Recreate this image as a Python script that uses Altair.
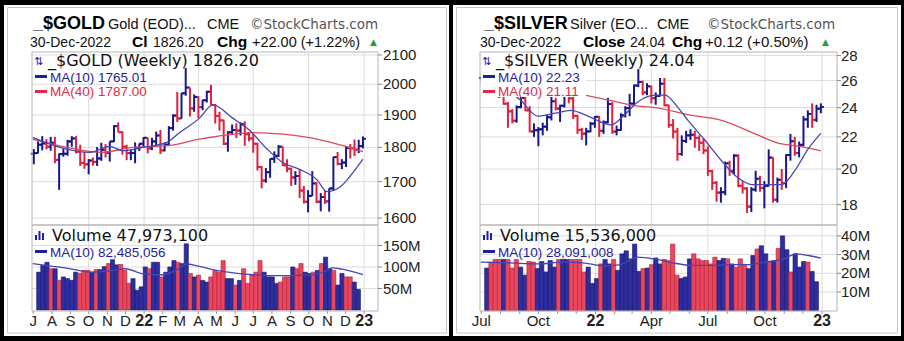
import altair as alt
import pandas as pd

weeks = [d.strftime("%Y-%m-%d") for d in pd.date_range("2021-07-02", "2022-12-30", freq="W-FRI")]

# ---------------- GOLD weekly OHLC ----------------
gold_open = [1781, 1783, 1808, 1812, 1802, 1814, 1763, 1780, 1781, 1818, 1827, 1787, 1754, 1750, 1761, 1757, 1767, 1793, 1783, 1818, 1865, 1846, 1802, 1783, 1783, 1798, 1811,
             1829, 1797, 1818, 1836, 1791, 1808, 1859, 1898, 1889, 1970, 1989, 1921, 1958, 1925, 1947, 1975, 1932, 1897, 1883, 1811, 1846, 1853, 1851, 1871, 1840, 1827,
             1811, 1742, 1703, 1727, 1766, 1775, 1802, 1747, 1737, 1712, 1716, 1675, 1644, 1660, 1695, 1644, 1657, 1645, 1681, 1771, 1751, 1755, 1798, 1797, 1793, 1804]
gold_high = [1795, 1818, 1834, 1825, 1832, 1832, 1782, 1795, 1823, 1834, 1834, 1808, 1787, 1765, 1770, 1801, 1814, 1810, 1818, 1868, 1877, 1849, 1808, 1793, 1815, 1812, 1831,
             1830, 1829, 1848, 1853, 1815, 1865, 1902, 1974, 1971, 2055, 1989, 1966, 1960, 1949, 1978, 1998, 1935, 1910, 1885, 1849, 1870, 1874, 1877, 1880, 1847,
             1841, 1814, 1745, 1739, 1767, 1788, 1807, 1802, 1765, 1740, 1730, 1735, 1688, 1676, 1730, 1699, 1668, 1675, 1681, 1772, 1786, 1765, 1804, 1810, 1824, 1823, 1833]
gold_low = [1750, 1782, 1791, 1794, 1790, 1753, 1677, 1772, 1775, 1802, 1782, 1745, 1737, 1721, 1746, 1745, 1760, 1770, 1758, 1816, 1846, 1778, 1762, 1762, 1753, 1789, 1801,
            1782, 1792, 1805, 1780, 1788, 1806, 1851, 1878, 1889, 1962, 1895, 1910, 1890, 1915, 1940, 1931, 1873, 1851, 1807, 1787, 1840, 1828, 1836, 1805, 1818,
            1784, 1732, 1681, 1697, 1711, 1754, 1771, 1745, 1727, 1688, 1691, 1654, 1639, 1615, 1660, 1640, 1618, 1638, 1617, 1676, 1747, 1736, 1742, 1767, 1774, 1783, 1797]
gold_close = [1783, 1808, 1812, 1802, 1814, 1763, 1780, 1781, 1818, 1827, 1787, 1754, 1750, 1761, 1757, 1767, 1793, 1783, 1818, 1865, 1846, 1802, 1783, 1783, 1798, 1811, 1829,
              1797, 1818, 1836, 1791, 1808, 1859, 1898, 1889, 1970, 1989, 1921, 1958, 1925, 1947, 1975, 1932, 1897, 1883, 1811, 1846, 1853, 1851, 1871, 1840, 1827,
              1811, 1742, 1703, 1727, 1766, 1775, 1802, 1747, 1737, 1712, 1716, 1675, 1644, 1660, 1695, 1644, 1657, 1645, 1681, 1771, 1751, 1755, 1798, 1797, 1793, 1804, 1826]
gold_vol = [88, 104, 111, 96, 96, 69, 77, 73, 69, 88,
            85, 92, 92, 88, 94, 94, 101, 108, 117, 105,
            106, 92, 62, 73, 46, 54, 100, 96, 111, 111,
            77, 88, 100, 115, 111, 108, 154, 85, 77, 81,
            69, 65, 77, 92, 88, 115, 73, 73, 58, 69,
            96, 62, 81, 88, 115, 88, 77, 77, 62, 65,
            77, 77, 100, 96, 108, 88, 85, 88, 92, 108,
            123, 96, 92, 58, 85, 77, 77, 65, 48]

gold_ma10_dates = ["2021-06-30", "2021-08-14", "2021-10-03", "2021-11-05", "2021-11-27", "2021-12-30", "2022-02-08", "2022-03-01", "2022-04-03", "2022-04-25",
                   "2022-05-28", "2022-06-25", "2022-07-24", "2022-08-19", "2022-09-16", "2022-10-15", "2022-10-31", "2022-11-22", "2022-12-13", "2022-12-30"]
gold_ma10 = [1830, 1800, 1785, 1803, 1790, 1800, 1815, 1845, 1890, 1932, 1890, 1852, 1795, 1755, 1735, 1705, 1672, 1685, 1725, 1765]
gold_ma40_dates = ["2021-06-30", "2021-08-26", "2021-10-20", "2021-12-14", "2022-02-08", "2022-04-03", "2022-05-01", "2022-06-30", "2022-08-19", "2022-10-15", "2022-11-27", "2022-12-30"]
gold_ma40 = [1825, 1800, 1785, 1800, 1805, 1825, 1833, 1845, 1840, 1825, 1805, 1787]
gold_vma_dates = ["2021-06-30", "2021-08-28", "2021-10-05", "2021-11-10", "2021-12-01", "2021-12-31", "2022-02-01", "2022-02-26", "2022-03-12", "2022-04-01",
                  "2022-05-01", "2022-06-01", "2022-07-01", "2022-08-01", "2022-09-01", "2022-10-01", "2022-10-25", "2022-11-10", "2022-11-25", "2022-12-30"]
gold_vma = [108, 97, 88, 92, 96, 84, 82, 95, 107, 102, 92, 86, 82, 80, 80, 81, 88, 98, 95, 82.5]

# ---------------- SILVER weekly OHLC ----------------
silver_open = [26.20, 26.47, 26.17, 25.70, 25.20, 25.50, 24.28, 23.73, 23.08, 24.03, 24.70, 23.80, 22.36, 22.44, 22.50, 22.68, 23.32, 24.45, 23.93, 24.13, 25.28, 24.66, 23.41, 22.46, 22.21, 22.36, 22.88,
               23.35, 22.40, 22.97, 24.25, 22.35, 22.45, 23.46, 23.96, 24.28, 25.62, 25.89, 25.10, 25.56, 24.68, 24.84, 25.76, 24.16, 22.78, 22.35, 20.91, 21.74, 22.10, 22.14, 21.93, 21.62,
               21.13, 19.88, 19.20, 18.65, 18.67, 20.34, 19.89, 20.81, 19.03, 18.88, 17.89, 18.82, 19.43, 18.91, 19.02, 20.69, 18.26, 19.37, 19.18, 20.85, 21.72, 20.97, 21.49, 23.17, 23.55, 23.14, 23.92]
silver_high = [26.60, 26.55, 26.60, 25.80, 25.80, 25.75, 24.40, 23.90, 24.15, 24.85, 24.80, 24.10, 22.90, 22.65, 22.95, 23.50, 24.80, 24.70, 24.20, 25.40, 25.40, 24.90, 23.50, 22.60, 22.60, 23.00, 23.40,
               23.40, 23.10, 24.70, 24.40, 22.75, 23.60, 24.10, 25.00, 25.70, 26.90, 26.00, 25.80, 25.60, 25.10, 26.20, 26.20, 24.20, 23.20, 22.60, 22.10, 22.40, 22.50, 22.40, 22.10, 21.90,
               21.40, 19.95, 19.30, 18.95, 20.45, 20.50, 20.90, 20.90, 19.30, 18.95, 18.95, 19.90, 19.60, 19.30, 21.20, 20.70, 19.50, 20.00, 20.90, 22.20, 22.00, 21.70, 23.40, 23.80, 24.30, 24.20, 24.30]
silver_low = [25.80, 25.60, 25.60, 24.80, 24.70, 24.20, 22.60, 22.90, 22.95, 23.95, 23.75, 22.30, 22.00, 21.40, 22.10, 22.40, 23.10, 23.80, 23.00, 24.00, 24.30, 23.20, 22.20, 21.80, 21.45, 22.30, 22.60,
              22.00, 22.20, 22.90, 22.20, 22.10, 22.40, 23.30, 23.40, 24.20, 25.50, 24.90, 24.90, 24.30, 24.20, 24.80, 24.10, 22.60, 21.90, 20.50, 20.80, 21.60, 21.80, 21.30, 21.10, 20.90,
              19.60, 18.80, 18.15, 18.10, 18.50, 19.60, 19.70, 18.95, 18.60, 17.56, 17.60, 18.70, 18.70, 17.80, 19.00, 18.10, 18.10, 18.80, 18.90, 20.50, 20.80, 20.70, 21.40, 22.60, 22.60, 23.00, 23.60]
silver_close = [26.47, 26.17, 25.70, 25.20, 25.50, 24.28, 23.73, 23.08, 24.03, 24.70, 23.80, 22.36, 22.44, 22.50, 22.68, 23.32, 24.45, 23.93, 24.13, 25.28, 24.66, 23.41, 22.46, 22.21, 22.36, 22.88, 23.35,
                22.40, 22.97, 24.25, 22.35, 22.45, 23.46, 23.96, 24.28, 25.62, 25.89, 25.10, 25.56, 24.68, 24.84, 25.76, 24.16, 22.78, 22.35, 20.91, 21.74, 22.10, 22.14, 21.93, 21.62, 21.13,
                19.88, 19.20, 18.65, 18.67, 20.34, 19.89, 20.81, 19.03, 18.88, 17.89, 18.82, 19.43, 18.91, 19.02, 20.69, 18.26, 19.37, 19.18, 20.85, 21.72, 20.97, 21.49, 23.17, 23.55, 23.14, 23.92, 24.04]
silver_vol = [22.8, 26, 27.4, 27.4, 27.4, 27.4, 22.8, 27.4, 23.3, 19,
              26.3, 26, 22.5, 26.3, 20.7, 26.8, 23.3, 27.4, 27.4, 27.4,
              27.4, 27.4, 27.4, 20.7, 23.3, 14.6, 17.2, 25, 27.4, 25,
              27.4, 21.6, 30.4, 32, 27.7, 35.6, 21, 22.5, 22.8, 24.6,
              28.2, 25, 27.4, 26.8, 35.6, 19, 17.2, 18, 27.7, 30.4,
              27.7, 26.8, 26.8, 25, 28.6, 26.8, 28, 27.7, 25, 23.3,
              27.7, 24.6, 22.5, 29.5, 33, 34.7, 30.4, 26, 26.8, 33.3,
              40, 32.6, 20.7, 30.4, 23.3, 26.3, 26, 21, 15.5]

silver_ma10_dates = ["2021-08-13", "2021-09-03", "2021-09-30", "2021-10-28", "2021-11-22", "2021-12-20", "2022-01-26", "2022-02-17", "2022-03-10", "2022-04-07", "2022-04-23",
                     "2022-05-14", "2022-05-30", "2022-06-26", "2022-07-23", "2022-08-18", "2022-09-10", "2022-10-06", "2022-10-28", "2022-11-18", "2022-12-09", "2022-12-30"]
silver_ma10 = [25.3, 24.5, 23.4, 23.6, 23.8, 23.4, 22.8, 23.5, 24.4, 24.9, 24.9, 24.0, 23.1, 21.8, 20.5, 19.5, 19.1, 19.1, 19.1, 19.9, 21.2, 22.23]
silver_ma40_dates = ["2021-12-15", "2022-01-26", "2022-03-10", "2022-04-07", "2022-05-30", "2022-07-23", "2022-09-15", "2022-10-22", "2022-11-23", "2022-12-30"]
silver_ma40 = [24.9, 24.5, 24.1, 24.0, 23.5, 23.1, 22.2, 21.6, 21.4, 21.11]
silver_vma_dates = ["2021-06-30", "2021-08-15", "2021-10-01", "2021-11-10", "2021-12-15", "2022-01-15", "2022-02-10", "2022-03-10", "2022-04-05", "2022-05-05",
                    "2022-06-05", "2022-07-05", "2022-08-05", "2022-09-05", "2022-10-01", "2022-11-01", "2022-11-20", "2022-12-10", "2022-12-30"]
silver_vma = [26, 25.6, 25, 26, 25.4, 23.9, 24.6, 28.6, 27.7, 25.6, 24.2, 24.2, 24.6, 24.6, 26, 27.7, 30.4, 29.5, 28.09]

# ---------------- axis ticks / labels ----------------
gold_yticks = [1600, 1700, 1800, 1900, 2000, 2100]
silver_yticks = [18, 20, 22, 24, 26, 28]
gold_vticks = [50, 100, 150]
gold_vlabels = ["50M", "100M", "150M"]
silver_vticks = [10, 20, 30, 40]
silver_vlabels = ["10M", "20M", "30M", "40M"]
quarter_lines = ["2021-10-01", "2022-01-01", "2022-04-01", "2022-07-01", "2022-10-01", "2023-01-01"]
month_dates = ["2021-07-01", "2021-08-01", "2021-09-01", "2021-10-01", "2021-11-01", "2021-12-01", "2022-01-01",
               "2022-02-01", "2022-03-01", "2022-04-01", "2022-05-01", "2022-06-01", "2022-07-01", "2022-08-01",
               "2022-09-01", "2022-10-01", "2022-11-01", "2022-12-01", "2023-01-01"]
gold_month_labels = ["J", "A", "S", "O", "N", "D", "22", "F", "M", "A", "M", "J", "J", "A", "S", "O", "N", "D", "23"]
silver_month_dates = ["2021-07-01", "2021-10-01", "2022-01-01", "2022-04-01", "2022-07-01", "2022-10-01", "2023-01-01"]
silver_month_labels = ["Jul", "Oct", "22", "Apr", "Jul", "Oct", "23"]

# ---------------- styling ----------------
BLUE, RED = "#18188c", "#e2203e"
VBLUE, VRED, VBLUE_S, VRED_S = "#2e2ea0", "#e9475d", "#16166c", "#b51f38"
MA_BLUE, MA_RED = "#4646b4", "#dc4a5c"
LEG_BLUE, LEG_RED = "#1e1ea0", "#e02a48"
GRID, BORDER = "#dcdcdc", "#b4b4b4"
SANS, DV = "Liberation Sans", "DejaVu Sans"


def dt(y, m, d):
    return alt.DateTime(year=y, month=m, date=d, utc=True)


def blank():
    return alt.Chart(alt.Data(values=[{}]))


def T(s, x, y, size=14, color="#111", weight="normal", font=SANS, align="left", baseline="alphabetic"):
    return alt.Chart(alt.Data(values=[{"t": s}])).mark_text(
        align=align, baseline=baseline, fontSize=size, fontWeight=weight, font=font, color=color
    ).encode(x=alt.value(x), y=alt.value(y), text="t:N")


def R(x, x2, y, y2, fill="transparent", stroke="transparent", sw=1):
    return blank().mark_rect(fill=fill, stroke=stroke, strokeWidth=sw).encode(
        x=alt.value(x), x2=alt.value(x2), y=alt.value(y), y2=alt.value(y2))


def S(x, x2, y, y2, color, sw=1):
    return blank().mark_rule(color=color, strokeWidth=sw).encode(
        x=alt.value(x), x2=alt.value(x2), y=alt.value(y), y2=alt.value(y2))


def panel(p):
    L, Rr = p["L"], p["R"]
    xsc = alt.Scale(domain=[dt(2021, 6, 29), p["xend"]], range=[L, Rr])
    ysc = alt.Scale(type="log", domain=p["ydom"], range=[225, 52], nice=False)
    vsc = alt.Scale(domain=p["vdom"], range=[p["v0"], 225], nice=False, zero=False)
    X = alt.X("date:T", scale=xsc, axis=None)
    up = [c >= o for o, c in zip(p["open"], p["close"])]
    df = pd.DataFrame({"date": weeks, "open": p["open"], "high": p["high"], "low": p["low"],
                       "close": p["close"], "vol": p["vol"],
                       "col": [BLUE if u else RED for u in up],
                       "vfill": [VBLUE if u else VRED for u in up],
                       "vstroke": [VBLUE_S if u else VRED_S for u in up]})
    lay = []
    lay.append(R(*p["panel"], fill="white"))
    lay.append(R(*p["frame"], stroke="#c6c6c6"))
    # grids
    lay.append(alt.Chart(pd.DataFrame({"v": p["yticks"]})).mark_rule(color=GRID).encode(
        y=alt.Y("v:Q", scale=ysc, axis=None), x=alt.value(L), x2=alt.value(Rr)))
    lay.append(alt.Chart(pd.DataFrame({"v": p["vticks"]})).mark_rule(color=GRID).encode(
        y=alt.Y("v:Q", scale=vsc, axis=None), x=alt.value(L), x2=alt.value(Rr)))
    lay.append(alt.Chart(pd.DataFrame({"date": quarter_lines})).mark_rule(color=GRID).encode(
        x=X, y=alt.value(52), y2=alt.value(311)))
    # month ticks at bottom
    lay.append(alt.Chart(pd.DataFrame({"date": month_dates})).mark_rule(color="#999").encode(
        x=X, y=alt.value(311), y2=alt.value(314)))
    # volume bars
    lay.append(alt.Chart(df).mark_bar(size=p["bw"], strokeWidth=0.6).encode(
        x=X, y=alt.Y("vol:Q", scale=vsc, axis=None, stack=None),
        fill=alt.Fill("vfill:N", scale=None), stroke=alt.Stroke("vstroke:N", scale=None)))
    lay.append(alt.Chart(pd.DataFrame({"date": p["vma_dates"], "v": p["vma"]})).mark_line(
        color=MA_BLUE, strokeWidth=1.3, interpolate="monotone").encode(
        x=X, y=alt.Y("v:Q", scale=vsc, axis=None)))
    # OHLC bars
    lay.append(alt.Chart(df).mark_rule(strokeWidth=2).encode(
        x=X, y=alt.Y("low:Q", scale=ysc, axis=None), y2="high:Q", color=alt.Color("col:N", scale=None)))
    lay.append(alt.Chart(df).mark_rule(strokeWidth=2, xOffset=-3, x2Offset=0).encode(
        x=X, x2="date:T", y=alt.Y("open:Q", scale=ysc, axis=None), color=alt.Color("col:N", scale=None)))
    lay.append(alt.Chart(df).mark_rule(strokeWidth=2, xOffset=0, x2Offset=3).encode(
        x=X, x2="date:T", y=alt.Y("close:Q", scale=ysc, axis=None), color=alt.Color("col:N", scale=None)))
    # moving averages
    lay.append(alt.Chart(pd.DataFrame({"date": p["ma40_dates"], "v": p["ma40"]})).mark_line(
        color=MA_RED, strokeWidth=1.3, interpolate="monotone").encode(
        x=X, y=alt.Y("v:Q", scale=ysc, axis=None)))
    lay.append(alt.Chart(pd.DataFrame({"date": p["ma10_dates"], "v": p["ma10"]})).mark_line(
        color=MA_BLUE, strokeWidth=1.3, interpolate="monotone").encode(
        x=X, y=alt.Y("v:Q", scale=ysc, axis=None)))
    # plot borders
    lay.append(R(L, Rr, 52, 225, stroke=BORDER))
    lay.append(R(L, Rr, 225, 311, stroke=BORDER))
    # axis ticks + labels
    lay.append(alt.Chart(pd.DataFrame({"v": p["yticks"]})).mark_rule(color="#888").encode(
        y=alt.Y("v:Q", scale=ysc, axis=None), x=alt.value(Rr), x2=alt.value(Rr + 4)))
    lay.append(alt.Chart(pd.DataFrame({"v": p["vticks"]})).mark_rule(color="#888").encode(
        y=alt.Y("v:Q", scale=vsc, axis=None), x=alt.value(Rr), x2=alt.value(Rr + 4)))
    lay.append(alt.Chart(pd.DataFrame({"v": p["yticks"], "lab": [str(t) for t in p["yticks"]]})).mark_text(
        align="left", baseline="middle", fontSize=15, font=SANS, color="#222").encode(
        y=alt.Y("v:Q", scale=ysc, axis=None), x=alt.value(p["lx"]), text="lab:N"))
    lay.append(alt.Chart(pd.DataFrame({"v": p["vticks"], "lab": p["vlabels"]})).mark_text(
        align="left", baseline="middle", fontSize=15, font=SANS, color="#222").encode(
        y=alt.Y("v:Q", scale=vsc, axis=None), x=alt.value(p["lx"]), text="lab:N"))
    mdf = pd.DataFrame({"date": p["mdates"], "lab": p["mlabels"]})
    mdf["bold"] = mdf["lab"].isin(["22", "23"])
    lay.append(alt.Chart(mdf[~mdf["bold"]]).mark_text(
        align="center", baseline="middle", fontSize=15, font=SANS, color="#222").encode(
        x=X, y=alt.value(321), text="lab:N"))
    lay.append(alt.Chart(mdf[mdf["bold"]]).mark_text(
        align="center", baseline="middle", fontSize=16, font=SANS, fontWeight="bold", color="#222").encode(
        x=X, y=alt.value(321), text="lab:N"))
    return lay


def legends(dx, name, last, ma10, ma40, vol, vma, box):
    lay = []
    if box:
        lay.append(R(32 + dx + 1, 32 + dx + 106, 53, 97, fill="white"))
    lay.append(T("⇅", 34 + dx, 65, 11, LEG_BLUE, font=DV))
    lay.append(T(f"{name} (Weekly) {last}", 48 + dx, 66, 16, "#111", font=DV))
    lay.append(S(35 + dx, 47 + dx, 76.5, 76.5, LEG_BLUE, 3))
    lay.append(T(f"MA(10) {ma10}", 50 + dx, 81.5, 13.5, LEG_BLUE))
    lay.append(S(35 + dx, 47 + dx, 91.5, 91.5, LEG_RED, 3))
    lay.append(T(f"MA(40) {ma40}", 50 + dx, 96, 13.5, LEG_RED))
    lay.append(R(35 + dx, 37 + dx, 235, 240, fill=LEG_BLUE))
    lay.append(R(38.5 + dx, 40.5 + dx, 231, 240, fill=LEG_BLUE))
    lay.append(R(42 + dx, 44 + dx, 233, 240, fill=LEG_BLUE))
    lay.append(T(f"Volume {vol}", 52 + dx, 240.5, 16, "#111", font=DV))
    lay.append(S(35 + dx, 47 + dx, 251.5, 251.5, LEG_BLUE, 3))
    lay.append(T(f"MA(10) {vma}", 50 + dx, 256.5, 13.5, LEG_BLUE))
    return lay


gold_p = dict(L=32, R=378, xend=dt(2023, 1, 24), ydom=[1581.4, 2110.4], vdom=[0, 197.7], v0=310, bw=4.2,
              panel=(4, 449, 5, 336), frame=(7.5, 446.5, 7.5, 333),
              open=gold_open, high=gold_high, low=gold_low, close=gold_close, vol=gold_vol,
              ma10_dates=gold_ma10_dates, ma10=gold_ma10, ma40_dates=gold_ma40_dates, ma40=gold_ma40,
              vma_dates=gold_vma_dates, vma=gold_vma,
              yticks=gold_yticks, vticks=gold_vticks, vlabels=gold_vlabels, lx=383,
              mdates=month_dates, mlabels=gold_month_labels)
silver_p = dict(L=480, R=837, xend=dt(2023, 1, 25), ydom=[16.94, 28.30], vdom=[0, 45.8], v0=310.7, bw=4.35,
                panel=(453, 901, 5, 336), frame=(456.5, 897.5, 7.5, 333),
                open=silver_open, high=silver_high, low=silver_low, close=silver_close, vol=silver_vol,
                ma10_dates=silver_ma10_dates, ma10=silver_ma10, ma40_dates=silver_ma40_dates, ma40=silver_ma40,
                vma_dates=silver_vma_dates, vma=silver_vma,
                yticks=silver_yticks, vticks=silver_vticks, vlabels=silver_vlabels, lx=841,
                mdates=silver_month_dates, mlabels=silver_month_labels)

GREEN = "#2a9d3a"
titles = [
    T("_$GOLD", 33, 29, 18, "#000", "bold"),
    T("Gold (EOD)...", 108, 28.5, 14.5),
    T("CME", 207, 28.5, 14.5),
    T("©StockCharts.com", 250, 28.5, 13.5, "#555", font=DV),
    T("30-Dec-2022", 30, 46.5, 14),
    T("Cl", 132, 46.5, 15.5, "#000", "bold"),
    T("1826.20", 153, 46.5, 14),
    T("Chg", 217, 46.5, 15.5, "#000", "bold"),
    T("+22.00 (+1.22%)", 252, 46.5, 14.5),
    T("▲", 370, 45, 9, GREEN, font=DV),
    T("_$SILVER", 484, 29, 18, "#000", "bold"),
    T("Silver (EO...", 570, 28.5, 14.5),
    T("CME", 657, 28.5, 14.5),
    T("©StockCharts.com", 707, 28.5, 13.5, "#555", font=DV),
    T("30-Dec-2022", 480, 46.5, 14),
    T("Close", 583, 46.5, 15.5, "#000", "bold"),
    T("24.04", 630, 46.5, 14),
    T("Chg", 672, 46.5, 15.5, "#000", "bold"),
    T("+0.12 (+0.50%)", 705, 46.5, 15),
    T("▲", 822, 45, 9, GREEN, font=DV),
]

layers = (panel(gold_p) + panel(silver_p)
          + legends(0, "_$GOLD", "1826.20", "1765.01", "1787.00", "47,973,100", "82,485,056", False)
          + legends(448, "_$SILVER", "24.04", "22.23", "21.11", "15,536,000", "28,091,008", True)
          + titles)

chart = alt.layer(*layers).resolve_scale(x="independent", y="independent").properties(
    width=904, height=341, padding=0, background="black",
    autosize=alt.AutoSizeParams(type="none")
).configure_view(stroke=None)

chart.save("out.html", embed_options={"renderer": "svg", "actions": False})
